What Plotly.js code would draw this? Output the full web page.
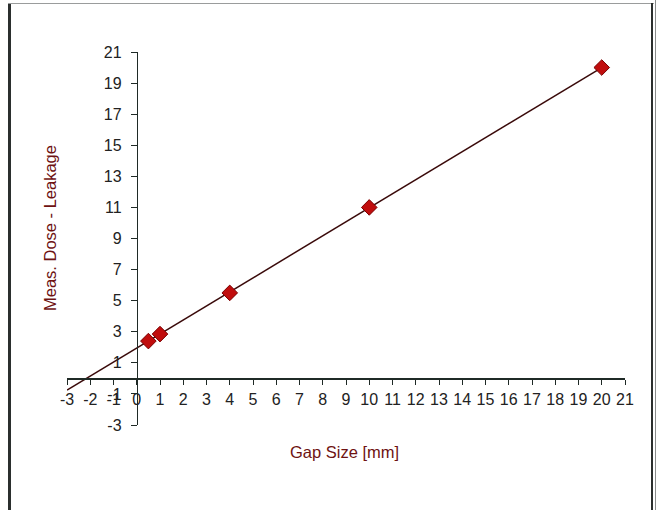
<!DOCTYPE html>
<html>
<head>
<meta charset="utf-8">
<script src="https://cdn.plot.ly/plotly-3.0.1.min.js"></script>
<style>
  html, body { margin: 0; padding: 0; background: #ffffff; }
  #wrap { position: relative; width: 662px; height: 510px; overflow: hidden; }
  #chart { position: absolute; left: 0; top: 0; width: 662px; height: 510px; }
  .fl { position: absolute; pointer-events: none; }
</style>
</head>
<body>
<div id="wrap">
  <div id="chart"></div>
  <div class="fl" style="left:8px; top:3px; width:3px; height:507px; background:#2b2f2e;"></div>
  <div class="fl" style="left:8px; top:3px; width:646px; height:1px; background:#9a9c9c;"></div>
  <div class="fl" style="left:651px; top:3px; width:2px; height:507px; background:#2b2f2e;"></div>
  <div class="fl" style="left:655px; top:0px; width:1px; height:510px; background:#8a8c8c;"></div>
</div>
<script>
// Data
const gapSize = [0.5, 1, 4, 10, 20];
const measDose = [2.4, 2.85, 5.5, 11, 20];
const trendX = [-3, 20];
const trendY = [-0.75, 20];
const xTickVals = [-3,-2,-1,0,1,2,3,4,5,6,7,8,9,10,11,12,13,14,15,16,17,18,19,20,21];
const xTickText = ['-3','-2','-1','0','1','2','3','4','5','6','7','8','9','10','11','12','13','14','15','16','17','18','19','20','21'];
const yTickVals = [-3,-1,1,3,5,7,9,11,13,15,17,19,21];
const yTickText = ['-3','-1','1','3','5','7','9','11','13','15','17','19','21'];
const xTitle = 'Gap Size [mm]';
const yTitle = 'Meas. Dose - Leakage';

const titleColor = '#6e1212';
const axisColor = '#1f2a26';
const labelColor = '#222222';

const traces = [
  {
    x: trendX, y: trendY, mode: 'lines', type: 'scatter',
    line: { color: '#3a0a0a', width: 1.5 },
    hoverinfo: 'skip', showlegend: false
  },
  {
    x: gapSize, y: measDose, mode: 'markers', type: 'scatter',
    marker: { symbol: 'diamond', size: 12, color: '#c00d0d', line: { color: '#7a0000', width: 1 } },
    showlegend: false
  }
];

const layout = {
  width: 662, height: 510,
  margin: { l: 67, r: 37, t: 52, b: 85 },
  paper_bgcolor: 'rgba(0,0,0,0)',
  plot_bgcolor: 'rgba(0,0,0,0)',
  font: { family: 'Liberation Sans, Arial, sans-serif', size: 16, color: labelColor },
  xaxis: {
    range: [-3, 21], tickmode: 'array', tickvals: xTickVals, ticktext: xTickText,
    showgrid: false, zeroline: false,
    showline: true, linecolor: axisColor, linewidth: 1.5,
    ticks: 'outside', ticklen: 5, tickcolor: axisColor, tickwidth: 1,
    ticklabelstandoff: 1,
    anchor: 'free', position: 0.125,
    tickfont: { size: 16, color: labelColor }
  },
  yaxis: {
    range: [-3, 21], tickmode: 'array', tickvals: yTickVals, ticktext: yTickText,
    showgrid: false, zeroline: false,
    showline: true, linecolor: axisColor, linewidth: 1.5,
    ticks: 'outside', ticklen: 6, tickcolor: axisColor, tickwidth: 1,
    ticklabelstandoff: 6,
    anchor: 'free', position: 0.125,
    tickfont: { size: 16, color: labelColor }
  },
  annotations: [
    {
      text: xTitle, xref: 'paper', yref: 'paper', x: 0.498, y: -0.072,
      xanchor: 'center', yanchor: 'middle', showarrow: false,
      font: { size: 16.5, color: titleColor }
    },
    {
      text: yTitle, xref: 'paper', yref: 'paper', x: -0.0305, y: 0.528,
      xanchor: 'center', yanchor: 'middle', showarrow: false, textangle: -90,
      font: { size: 16.5, color: titleColor }
    }
  ]
};

Plotly.newPlot('chart', traces, layout, { displayModeBar: false, staticPlot: true });
</script>
</body>
</html>
